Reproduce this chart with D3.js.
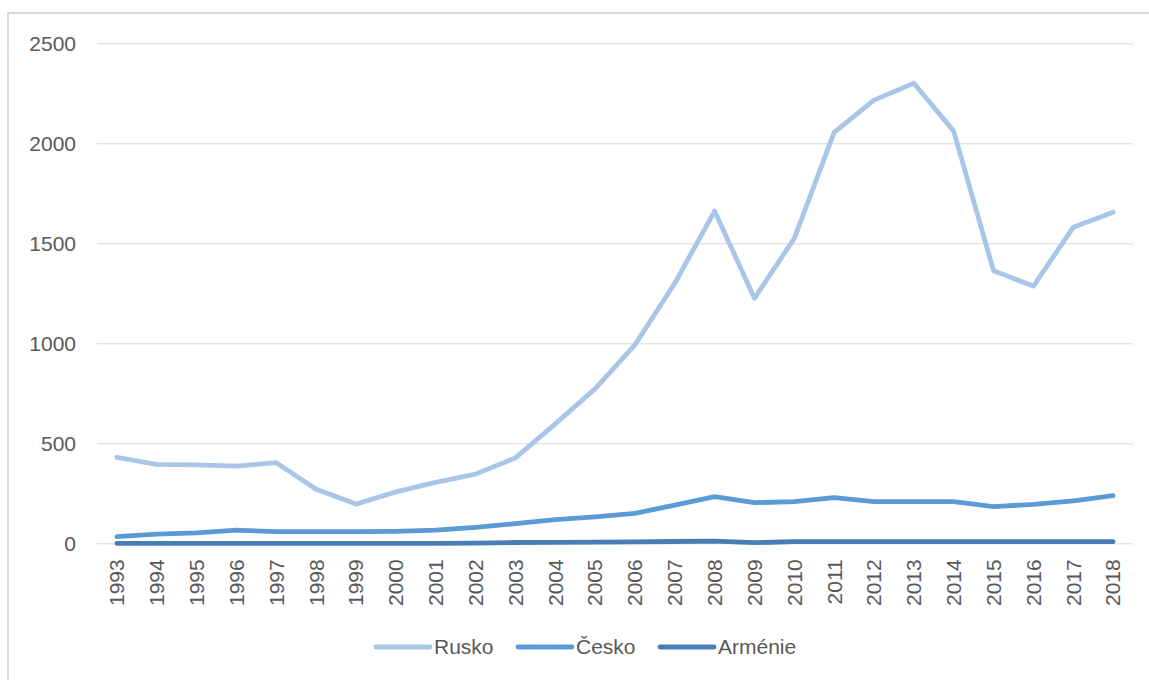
<!DOCTYPE html>
<html>
<head>
<meta charset="utf-8">
<script src="https://cdn.jsdelivr.net/npm/d3@7"></script>
<style>
  body { margin: 0; background: #fff; }
  text { font-family: "Liberation Sans", Arial, sans-serif; fill: #595959; }
</style>
</head>
<body>
<svg id="chart"></svg>
<script>
const years = [1993, 1994, 1995, 1996, 1997, 1998, 1999, 2000, 2001, 2002, 2003, 2004, 2005,
  2006, 2007, 2008, 2009, 2010, 2011, 2012, 2013, 2014, 2015, 2016, 2017, 2018];

const rusko = [430, 395, 392, 386, 403, 270, 196, 257, 305, 346, 427, 597, 772,
  992, 1300, 1661, 1225, 1525, 2055, 2216, 2300, 2061, 1363, 1286, 1580, 1655];
const cesko = [33, 46, 52, 66, 58, 58, 58, 60, 66, 80, 98, 118, 132,
  150, 191, 233, 203, 208, 228, 208, 208, 208, 183, 195, 212, 238];
const armenie = [0, 0, 0, 0, 0, 0, 0, 0, 0, 1, 4, 5, 6,
  7, 9, 11, 3, 8, 8, 8, 8, 8, 8, 8, 8, 8];

const yTicks = [0, 500, 1000, 1500, 2000, 2500];

const series = [
  { name: "Rusko", values: rusko, color: "#a9c5e8" },
  { name: "Česko", values: cesko, color: "#5b9bd5" },
  { name: "Arménie", values: armenie, color: "#4a7db3" }
];

const width = 1149;
const height = 680;

const svg = d3.select('#chart')
    .attr('width', width)
    .attr('height', height);

// outer chart frame, runs off the right and bottom edges
svg.append('rect')
    .attr('x', 8)
    .attr('y', 13)
    .attr('width', 1200)
    .attr('height', 700)
    .attr('fill', 'none')
    .attr('stroke', '#d9d9d9')
    .attr('stroke-width', 2);

const x = d3.scaleBand()
    .domain(years)
    .range([97, 1133]);

const y = d3.scaleLinear()
    .domain([0, 2500])
    .range([543.3, 43.3]);

// gridlines + y labels
const yAxis = svg.append('g')
    .attr('transform', 'translate(97,0)')
    .call(d3.axisLeft(y).tickValues(yTicks).tickFormat(d3.format('d'))
      .tickSize(-(1133 - 97)).tickPadding(21));
yAxis.select('.domain').remove();
yAxis.selectAll('.tick line').attr('stroke', '#d9d9d9');
yAxis.selectAll('.tick text')
    .attr('font-size', 21)
    .attr('font-family', null)
    .attr('fill', '#595959');

// x labels, rotated
const xAxis = svg.append('g')
    .attr('transform', 'translate(0,543.3)')
    .call(d3.axisBottom(x).tickSize(0));
xAxis.select('.domain').remove();
xAxis.selectAll('.tick text')
    .attr('font-size', 21)
    .attr('font-family', null)
    .attr('fill', '#595959')
    .attr('transform', 'rotate(-90)')
    .attr('text-anchor', 'end')
    .attr('x', -16)
    .attr('y', 0)
    .attr('dy', '0.35em');

const line = d3.line()
    .x((d, i) => x(years[i]) + x.bandwidth() / 2)
    .y(d => y(d));

svg.selectAll('.series')
  .data(series)
  .enter().append('path')
    .attr('class', 'series')
    .attr('d', d => line(d.values))
    .attr('fill', 'none')
    .attr('stroke', d => d.color)
    .attr('stroke-width', 4.8)
    .attr('stroke-linejoin', 'round')
    .attr('stroke-linecap', 'round');

// legend
const legendX = [376, 518, 660];
const legend = svg.selectAll('.legend')
  .data(series)
  .enter().append('g')
    .attr('class', 'legend')
    .attr('transform', (d, i) => 'translate(' + legendX[i] + ',647)');

legend.append('line')
    .attr('x1', 0)
    .attr('x2', 54)
    .attr('stroke', d => d.color)
    .attr('stroke-width', 4.8)
    .attr('stroke-linecap', 'round');

legend.append('text')
    .attr('x', 58)
    .attr('dy', '0.35em')
    .attr('font-size', 21)
    .text(d => d.name);
</script>
</body>
</html>
